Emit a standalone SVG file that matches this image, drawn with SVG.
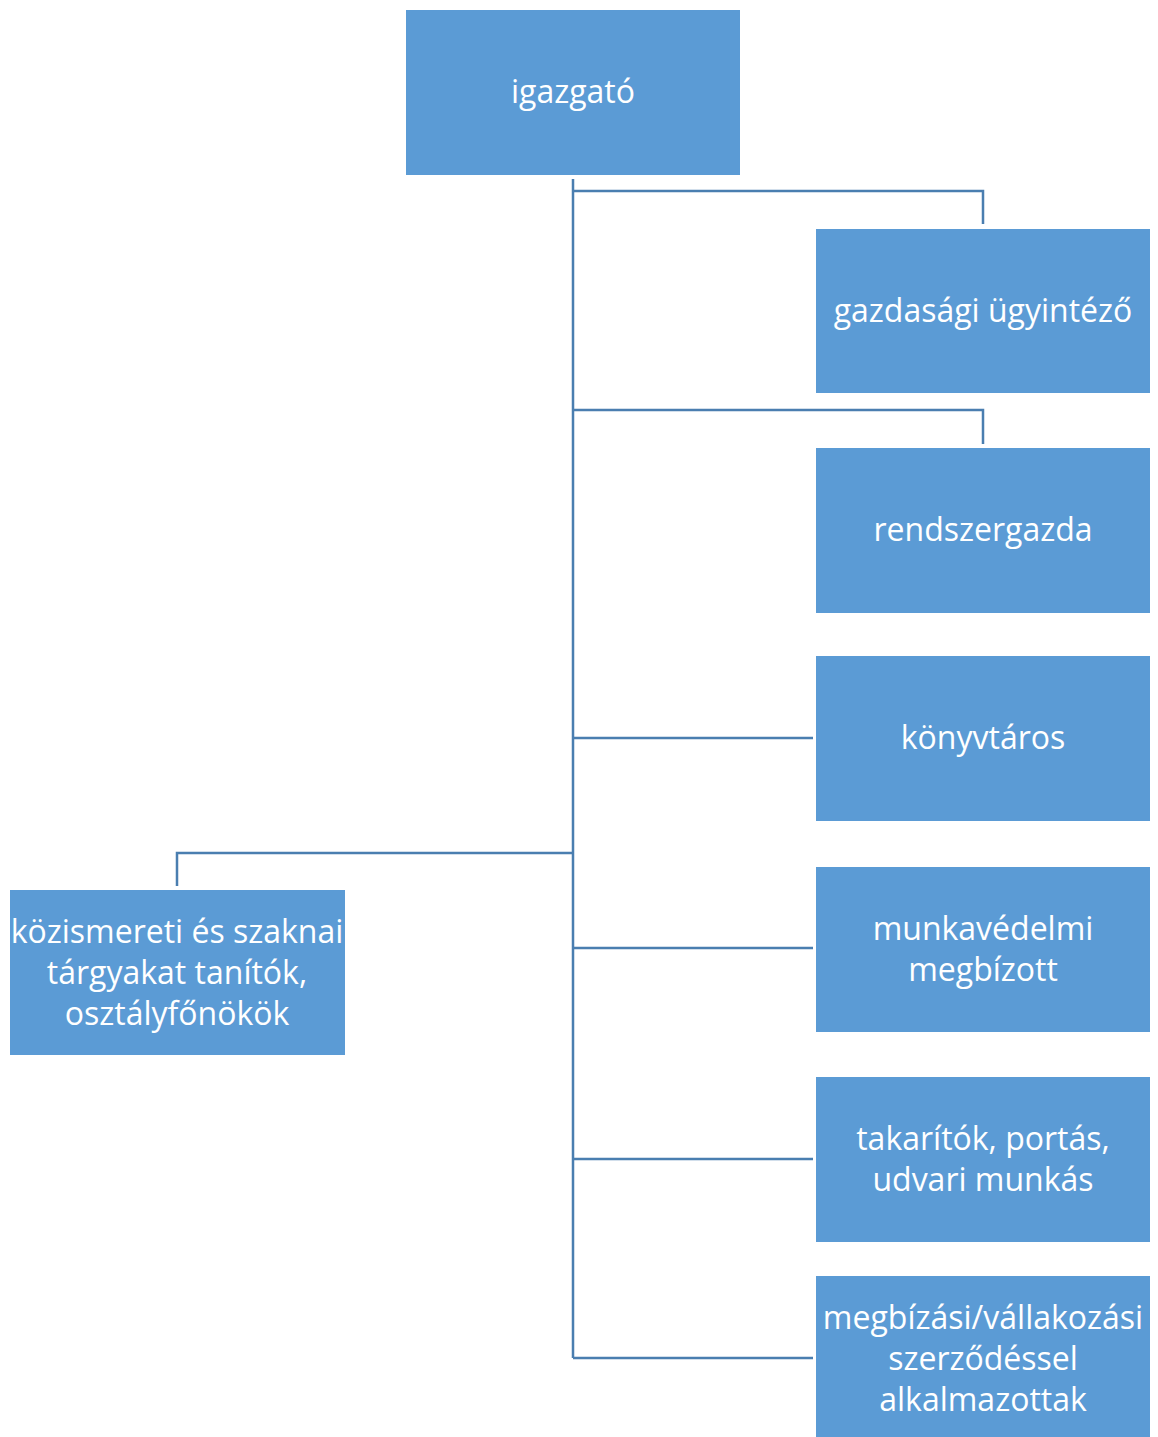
<svg xmlns="http://www.w3.org/2000/svg" width="1158" height="1437" viewBox="0 0 1158 1437">
<style>
.box{fill:#5b9bd5}
.t{font-family:"Open Sans","Liberation Sans",sans-serif;font-size:32px;fill:#fff;text-anchor:middle}
.c{fill:none;stroke:#4a7eb0;stroke-width:2.5}
</style>
<rect width="1158" height="1437" fill="#fff"/>
<g id="connectors">
<path class="c" d="M573,179 V1358"/>
<path class="c" d="M573,191 H983 V224"/>
<path class="c" d="M573,410 H983 V444"/>
<path class="c" d="M573,738 H813"/>
<path class="c" d="M573,853 H177 V886"/>
<path class="c" d="M573,948 H813"/>
<path class="c" d="M573,1159 H813"/>
<path class="c" d="M573,1358 H813"/>
</g>
<g id="igazgato"><rect class="box" x="406" y="10" width="334" height="165"/><text class="t" x="573" y="103">igazgató</text></g>
<g id="gazdasagi"><rect class="box" x="816" y="229" width="334" height="164"/><text class="t" x="983" y="322">gazdasági ügyintéző</text></g>
<g id="rendszergazda"><rect class="box" x="816" y="448" width="334" height="165"/><text class="t" x="983" y="541">rendszergazda</text></g>
<g id="konyvtaros"><rect class="box" x="816" y="656" width="334" height="165"/><text class="t" x="983" y="749">könyvtáros</text></g>
<g id="kozismereti"><rect class="box" x="10" y="890" width="335" height="165"/><text class="t" x="177" y="943">közismereti és szaknai</text><text class="t" x="177" y="984">tárgyakat tanítók,</text><text class="t" x="177" y="1025">osztályfőnökök</text></g>
<g id="munkavedelmi"><rect class="box" x="816" y="867" width="334" height="165"/><text class="t" x="983" y="940">munkavédelmi</text><text class="t" x="983" y="981">megbízott</text></g>
<g id="takaritok"><rect class="box" x="816" y="1077" width="334" height="165"/><text class="t" x="983" y="1150">takarítók, portás,</text><text class="t" x="983" y="1191">udvari munkás</text></g>
<g id="megbizasi"><rect class="box" x="816" y="1276" width="334" height="170"/><text class="t" x="983" y="1329">megbízási/vállakozási</text><text class="t" x="983" y="1370">szerződéssel</text><text class="t" x="983" y="1411">alkalmazottak</text></g>
</svg>
